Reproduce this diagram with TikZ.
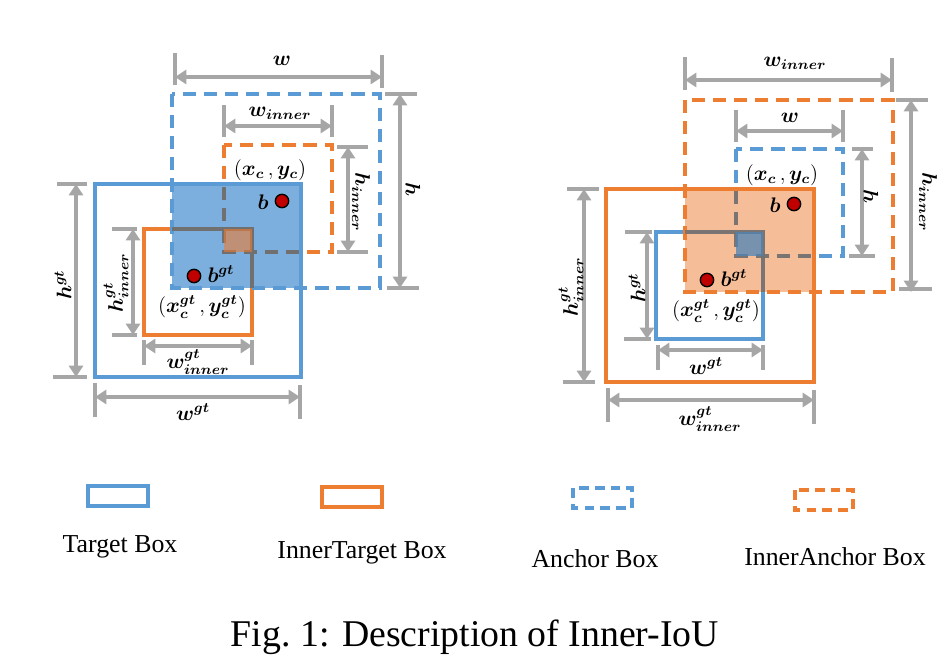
\documentclass[tikz,border=0pt]{standalone}
\usepackage{amsmath}
\usepackage{amssymb}
\usepackage{fontspec}
\setmainfont{Liberation Serif}
\usetikzlibrary{arrows.meta, positioning}
\definecolor{boxblue}{RGB}{91,155,213}
\definecolor{boxorange}{RGB}{237,125,49}
\definecolor{dimgray}{RGB}{166,166,166}
\definecolor{lapgray}{RGB}{112,112,112}
\definecolor{dotred}{RGB}{192,0,0}

\begin{document}
\begin{tikzpicture}[x=0.02cm, y=-0.02cm,
    solidbox/.style={line width=2pt},
    dashbox/.style={line width=2pt, dash pattern=on 7.5pt off 4.5pt},
    dim/.style={dimgray, line width=1.8pt, {Triangle[length=6.5pt,width=8pt]}-{Triangle[length=6.5pt,width=8pt]}},
    tick/.style={dimgray, line width=2.4pt},
    lbl/.style={inner sep=1pt, font=\fontsize{11.5}{13}\selectfont},
    centre/.style={circle, fill=dotred, draw=black, line width=0.8pt, inner sep=0pt, minimum size=7.6pt},
    legend/.style={font=\fontsize{14.7}{17}\selectfont}]
        \useasboundingbox (0,0) rectangle (948,668);

        % Left: target box inside anchor box
        \draw[solidbox, boxblue] (95,184) rectangle (301,377);
        \draw[solidbox, boxorange] (144,229) rectangle (252,335);
        \draw[dashbox, boxblue] (172,94) rectangle (380,288);
        \draw[dashbox, boxorange] (224,145) rectangle (332,252);
        \fill[boxblue, opacity=0.8] (172,184) rectangle (301,288);
        \begin{scope}
            \clip (172,184) rectangle (301,288);
            \draw[solidbox, lapgray] (144,229) rectangle (252,335);
            \draw[dashbox, lapgray] (224,145) rectangle (332,252);
        \end{scope}
        \fill[boxorange, opacity=0.6] (224,229) rectangle (252,252);

        \node[centre] (bL) at (282,201) {};
        \node[centre] (bgtL) at (194,276) {};
        \node[lbl] (bLlbl) at (263,202) {$\boldsymbol{b}$};
        \node[lbl] (bgtLlbl) at (221,274) {$\boldsymbol{b^{gt}}$};
        \node[lbl] (cL) at (270,170) {$(\boldsymbol{x_c}\,,\boldsymbol{y_c})$};
        \node[lbl] (cgtL) at (202,307) {$(\boldsymbol{x^{gt}_c}\,,\boldsymbol{y^{gt}_c})$};

        % Left: dimensions
        \coordinate (wLa) at (175,77);  \coordinate (wLb) at (382,77);
        \draw[tick] (175,53) -- (175,85);  \draw[tick] (382,55) -- (382,88);
        \draw[dim] (wLa) -- (wLb);
        \node[lbl] (wL) at (282,61) {$\boldsymbol{w}$};

        \coordinate (wiLa) at (224,126);  \coordinate (wiLb) at (332,126);
        \draw[tick] (224,105) -- (224,137);  \draw[tick] (332,105) -- (332,137);
        \draw[dim] (wiLa) -- (wiLb);
        \node[lbl] (wiL) at (280,113) {$\boldsymbol{w_{inner}}$};

        \coordinate (hiLa) at (348,147);  \coordinate (hiLb) at (348,252);
        \draw[tick] (337,147) -- (368,147);  \draw[tick] (337,252) -- (368,252);
        \draw[dim] (hiLa) -- (hiLb);
        \node[lbl, rotate=-90] (hiL) at (361,202) {$\boldsymbol{h_{inner}}$};

        \coordinate (hLa) at (400,94);  \coordinate (hLb) at (400,288);
        \draw[tick] (385,94) -- (417,94);  \draw[tick] (387,288) -- (419,288);
        \draw[dim] (hLa) -- (hLb);
        \node[lbl, rotate=-90] (hL) at (413,190) {$\boldsymbol{h}$};

        \coordinate (hgLa) at (76,184);  \coordinate (hgLb) at (76,377);
        \draw[tick] (57,184) -- (87,184);  \draw[tick] (53,377) -- (87,377);
        \draw[dim] (hgLa) -- (hgLb);
        \node[lbl, rotate=90] (hgL) at (63,285) {$\boldsymbol{h^{gt}}$};

        \coordinate (hgiLa) at (133,229);  \coordinate (hgiLb) at (133,335);
        \draw[tick] (112,229) -- (137,229);  \draw[tick] (112,335) -- (137,335);
        \draw[dim] (hgiLa) -- (hgiLb);
        \node[lbl, rotate=90] (hgiL) at (116,283) {$\boldsymbol{h^{gt}_{inner}}$};

        \coordinate (wgiLa) at (144,346);  \coordinate (wgiLb) at (252,346);
        \draw[tick] (144,340) -- (144,365);  \draw[tick] (252,340) -- (252,365);
        \draw[dim] (wgiLa) -- (wgiLb);
        \node[lbl] (wgiL) at (198,362) {$\boldsymbol{w^{gt}_{inner}}$};

        \coordinate (wgLa) at (95,397);  \coordinate (wgLb) at (300,397);
        \draw[tick] (95,383) -- (95,417);  \draw[tick] (300,385) -- (300,419);
        \draw[dim] (wgLa) -- (wgLb);
        \node[lbl] (wgL) at (193,412) {$\boldsymbol{w^{gt}}$};

        % Right: inner target box inside inner anchor box
        \draw[solidbox, boxorange] (606,189) rectangle (814,382);
        \draw[solidbox, boxblue] (656,232) rectangle (763,339);
        \draw[dashbox, boxorange] (685,100) rectangle (893,292);
        \draw[dashbox, boxblue] (736,149) rectangle (843,256);
        \fill[boxorange, opacity=0.5] (685,189) rectangle (814,292);
        \begin{scope}
            \clip (685,189) rectangle (814,292);
            \draw[solidbox, lapgray, opacity=0.8] (656,232) rectangle (763,339);
            \draw[dashbox, lapgray, opacity=0.8] (736,149) rectangle (843,256);
        \end{scope}
        \fill[boxblue!85!black, opacity=0.75] (736,232) rectangle (763,256);

        \node[centre] (bR) at (794,204) {};
        \node[centre] (bgtR) at (707,280) {};
        \node[lbl] (bRlbl) at (775,205) {$\boldsymbol{b}$};
        \node[lbl] (bgtRlbl) at (734,278) {$\boldsymbol{b^{gt}}$};
        \node[lbl] (cR) at (782,175) {$(\boldsymbol{x_c}\,,\boldsymbol{y_c})$};
        \node[lbl] (cgtR) at (716,311) {$(\boldsymbol{x^{gt}_c}\,,\boldsymbol{y^{gt}_c})$};

        % Right: dimensions
        \coordinate (wiRa) at (685,80);  \coordinate (wiRb) at (892,80);
        \draw[tick] (685,57) -- (685,90);  \draw[tick] (892,58) -- (892,92);
        \draw[dim] (wiRa) -- (wiRb);
        \node[lbl] (wiR) at (795,63) {$\boldsymbol{w_{inner}}$};

        \coordinate (wRa) at (736,131);  \coordinate (wRb) at (843,131);
        \draw[tick] (736,110) -- (736,142);  \draw[tick] (843,110) -- (843,142);
        \draw[dim] (wRa) -- (wRb);
        \node[lbl] (wR) at (790,118) {$\boldsymbol{w}$};

        \coordinate (hRa) at (862,149);  \coordinate (hRb) at (862,256);
        \draw[tick] (852,149) -- (873,149);  \draw[tick] (849,256) -- (875,256);
        \draw[dim] (hRa) -- (hRb);
        \node[lbl, rotate=-90] (hR) at (871,197) {$\boldsymbol{h}$};

        \coordinate (hiRa) at (911,100);  \coordinate (hiRb) at (911,292);
        \draw[tick] (896,100) -- (928,100);  \draw[tick] (899,289) -- (932,289);
        \draw[dim] (hiRa) -- (hiRb);
        \node[lbl, rotate=-90] (hiR) at (928,202) {$\boldsymbol{h_{inner}}$};

        \coordinate (hgiRa) at (584,189);  \coordinate (hgiRb) at (584,382);
        \draw[tick] (567,189) -- (599,189);  \draw[tick] (563,382) -- (595,382);
        \draw[dim] (hgiRa) -- (hgiRb);
        \node[lbl, rotate=90] (hgiR) at (571,287) {$\boldsymbol{h^{gt}_{inner}}$};

        \coordinate (hgRa) at (647,232);  \coordinate (hgRb) at (647,339);
        \draw[tick] (625,232) -- (652,232);  \draw[tick] (624,339) -- (651,339);
        \draw[dim] (hgRa) -- (hgRb);
        \node[lbl, rotate=90] (hgR) at (637,288) {$\boldsymbol{h^{gt}}$};

        \coordinate (wgRa) at (658,350);  \coordinate (wgRb) at (763,350);
        \draw[tick] (658,345) -- (658,370);  \draw[tick] (763,345) -- (763,370);
        \draw[dim] (wgRa) -- (wgRb);
        \node[lbl] (wgR) at (706,366) {$\boldsymbol{w^{gt}}$};

        \coordinate (wgiRa) at (608,400);  \coordinate (wgiRb) at (814,400);
        \draw[tick] (608,388) -- (608,422);  \draw[tick] (814,390) -- (814,424);
        \draw[dim] (wgiRa) -- (wgiRb);
        \node[lbl] (wgiR) at (710,419) {$\boldsymbol{w^{gt}_{inner}}$};

        % Legend
        \draw[solidbox, boxblue] (88,486) rectangle (148,506);
        \draw[solidbox, boxorange] (322,487) rectangle (382,507);
        \draw[boxblue, line width=2pt, dash pattern=on 5.5pt off 3.5pt] (573,488) rectangle (632,508);
        \draw[boxorange, line width=2pt, dash pattern=on 5.5pt off 3.5pt] (795,490) rectangle (853,510);
        \node[legend] (lgT) at (120,547) {Target Box};
        \node[legend] (lgIT) at (362,553) {InnerTarget Box};
        \node[legend] (lgA) at (595,559) {Anchor Box};
        \node[legend] (lgIA) at (835,557) {InnerAnchor Box};

        % Caption
        \node[font=\fontsize{21.5}{25}\selectfont] (cap) at (475,637) {Fig.\ 1: Description of Inner-IoU};
    \end{tikzpicture}
\end{document}
